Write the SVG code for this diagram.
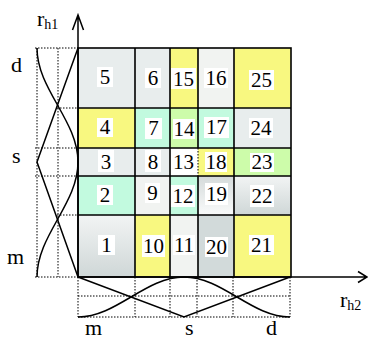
<svg xmlns="http://www.w3.org/2000/svg" width="368" height="340" viewBox="0 0 368 340">
<style>
.t{font-family:"Liberation Serif","Times New Roman",serif;fill:#000}
.n{font-size:21px;text-anchor:middle}
.lb{font-size:22px}
.sub{font-size:14px}
.bx{fill:#fff}
.gy{fill:#E8EDED}
.lg{fill:#F1F3F1}
.yl{fill:#F8F880}
.mt{fill:#C2FADF}
.gr{fill:#CDFCAA}
.wh{fill:#FFFFFF}
.dk{fill:#D2DADA}
.grid{stroke:#000;stroke-width:1.6;fill:none}
.dot{stroke:#000;stroke-width:1;stroke-dasharray:1.5 1.5;fill:none}
.mf{stroke:#000;stroke-width:1.5;fill:none}
.ax{stroke:#000;stroke-width:1.5;fill:none}
</style>
<defs>
<linearGradient id="gDown" x1="0" y1="0" x2="0" y2="1">
<stop offset="0" stop-color="#F2F4F4"/><stop offset="1" stop-color="#CFD7D7"/>
</linearGradient>
<linearGradient id="gUp" x1="0" y1="0" x2="0" y2="1">
<stop offset="0" stop-color="#D4DADA"/><stop offset="1" stop-color="#FAFBFB"/>
</linearGradient>
</defs>

<g id="cell5"><rect class="gy" x="78" y="48" width="57" height="60"/><rect class="bx" x="97" y="67" width="16" height="20"/><text class="t n" x="105" y="84">5</text></g>
<g id="cell6"><rect class="gy" x="135" y="48" width="35" height="60"/><rect class="bx" x="145" y="68" width="16" height="20"/><text class="t n" x="153" y="85">6</text></g>
<g id="cell15"><rect class="yl" x="170" y="48" width="28" height="60"/><rect class="bx" x="171" y="68" width="25" height="21"/><text class="t n" x="183.5" y="85.5">15</text></g>
<g id="cell16"><rect class="lg" x="198" y="48" width="36" height="60"/><rect class="bx" x="204" y="68" width="24" height="20"/><text class="t n" x="216" y="85">16</text></g>
<g id="cell25"><rect class="yl" x="234" y="48" width="57" height="60"/><rect class="bx" x="249" y="70" width="25" height="20"/><text class="t n" x="261.5" y="87">25</text></g>

<g id="cell4"><rect class="yl" x="78" y="108" width="57" height="40"/><rect class="bx" x="97" y="118" width="16" height="19"/><text class="t n" x="105" y="134">4</text></g>
<g id="cell7"><rect class="mt" x="135" y="108" width="35" height="40"/><rect class="bx" x="145" y="118" width="17" height="21"/><text class="t n" x="153.5" y="135">7</text></g>
<g id="cell14"><rect class="gr" x="170" y="108" width="28" height="40"/><rect class="bx" x="173" y="119" width="22" height="20"/><text class="t n" x="184" y="136">14</text></g>
<g id="cell17"><rect class="mt" x="198" y="108" width="36" height="40"/><rect class="bx" x="204" y="117" width="25" height="21"/><text class="t n" x="216.5" y="134">17</text></g>
<g id="cell24"><rect class="gy" x="234" y="108" width="57" height="40"/><rect class="bx" x="249" y="118" width="24" height="20"/><text class="t n" x="261" y="135">24</text></g>

<g id="cell3"><rect class="gy" x="78" y="148" width="57" height="28"/><rect class="bx" x="98" y="150" width="16" height="22"/><text class="t n" x="106" y="169">3</text></g>
<g id="cell8"><rect class="gy" x="135" y="148" width="35" height="28"/><rect class="bx" x="145" y="150" width="16" height="22"/><text class="t n" x="153" y="169">8</text></g>
<g id="cell13"><rect class="wh" x="170" y="148" width="28" height="28"/><rect class="bx" x="173" y="150" width="21" height="23"/><text class="t n" x="183.5" y="169">13</text></g>
<g id="cell18"><rect class="yl" x="198" y="148" width="36" height="28"/><rect class="bx" x="205" y="152" width="22" height="20"/><text class="t n" x="216" y="169">18</text></g>
<g id="cell23"><rect class="gr" x="234" y="148" width="57" height="28"/><rect class="bx" x="250" y="153" width="24" height="19"/><text class="t n" x="262" y="169">23</text></g>

<g id="cell2"><rect class="mt" x="78" y="176" width="57" height="39"/><rect class="bx" x="97" y="185" width="16" height="20"/><text class="t n" x="105" y="202">2</text></g>
<g id="cell9"><rect class="lg" x="135" y="176" width="35" height="39"/><rect class="bx" x="145" y="183" width="15" height="20"/><text class="t n" x="152.5" y="200">9</text></g>
<g id="cell12"><rect class="mt" x="170" y="176" width="28" height="39"/><rect class="bx" x="170" y="185" width="25" height="22"/><text class="t n" x="183" y="203">12</text></g>
<g id="cell19"><rect fill="url(#gUp)" x="198" y="176" width="36" height="39"/><rect class="bx" x="205" y="183" width="23" height="22"/><text class="t n" x="216.5" y="201">19</text></g>
<g id="cell22"><rect fill="url(#gDown)" x="234" y="176" width="57" height="39"/><rect class="bx" x="250" y="185" width="24" height="22"/><text class="t n" x="262" y="203">22</text></g>

<g id="cell1"><rect fill="url(#gDown)" x="78" y="215" width="57" height="62"/><rect class="bx" x="98" y="235" width="17" height="20"/><text class="t n" x="106.5" y="252">1</text></g>
<g id="cell10"><rect class="yl" x="135" y="215" width="35" height="62"/><rect class="bx" x="142" y="235" width="23" height="22"/><text class="t n" x="153.5" y="253">10</text></g>
<g id="cell11"><rect class="lg" x="170" y="215" width="28" height="62"/><rect class="bx" x="173" y="235" width="22" height="20"/><text class="t n" x="184" y="252">11</text></g>
<g id="cell20"><rect class="dk" x="198" y="215" width="36" height="62"/><rect class="bx" x="205" y="237" width="23" height="20"/><text class="t n" x="216.5" y="254">20</text></g>
<g id="cell21"><rect class="yl" x="234" y="215" width="57" height="62"/><rect class="bx" x="249" y="235" width="25" height="20"/><text class="t n" x="261.5" y="252">21</text></g>

<g id="grid">
<rect class="grid" x="78" y="48" width="213" height="229"/>
<path class="grid" d="M78,108H291M78,148H291M78,176H291M78,215H291M135,48V277M170,48V277M198,48V148M198,176V277M234,48V277"/>
<path class="dot" d="M198,148V176"/>
</g>

<g id="connectors">
<path class="dot" d="M37,48V277M58,48V277M35,48H78M57,108H78M35,148H78M35,176H78M57,215H78M35,277H78"/>
<path class="dot" d="M78,296H290M78,317H290M78,277V317M135,277V317M170,277V317M197,277V317M233,277V317M290,277V317"/>
<path class="mf" d="M78,48L37,162L78,277"/>
<path class="mf" d="M37,48C37,89.5 78,120.5 78,162"/>
<path class="mf" d="M78,162C78,203.9 37,235.1 37,277"/>
<path class="mf" d="M78,277L184,317L290,277"/>
<path class="mf" d="M78,317C116.6,317 145.4,277 184,277"/>
<path class="mf" d="M184,277C222.6,277 251.4,317 290,317"/>
<path class="ax" d="M78,277V15M72.5,30L78,15L83.5,30"/>
<path class="ax" d="M78,277H367M358,271.5L367,277L358,282.5" stroke-width="2"/>
</g>

<g id="labels">
<text class="t lb" x="37" y="26">r<tspan class="sub" dy="3">h1</tspan></text>
<text class="t lb" x="340" y="307">r<tspan class="sub" dy="3">h2</tspan></text>
<text class="t lb" x="11" y="72">d</text>
<text class="t lb" x="12" y="163">s</text>
<text class="t lb" x="7" y="264">m</text>
<text class="t lb" x="85" y="335">m</text>
<text class="t lb" x="185" y="335">s</text>
<text class="t lb" x="266" y="335">d</text>
</g>
</svg>
